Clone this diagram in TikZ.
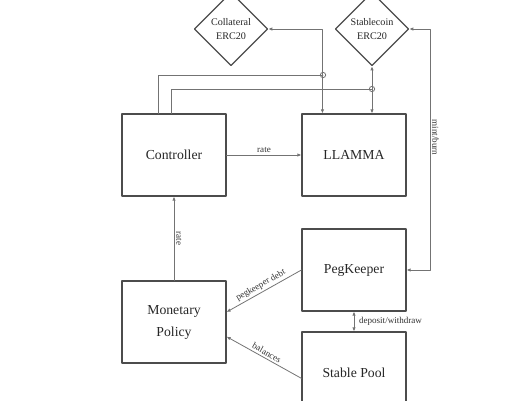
\documentclass[tikz,border=0pt]{standalone}
\usepackage{fontspec}
\setmainfont{Liberation Serif}
\usetikzlibrary{arrows.meta, calc, shapes.geometric}

\tikzset{
	block/.style={draw=black!70, line width=0.9pt, minimum width=78pt, minimum height=61.5pt,
		inner sep=0pt, align=center, text=black!85, font=\fontsize{10.3}{16.5}\selectfont},
	token/.style={diamond, draw=black!70, line width=0.9pt, minimum width=55pt, minimum height=55pt,
		inner sep=0pt, align=center, text=black!85, font=\fontsize{7.6}{11}\selectfont},
	link/.style={draw=black!55, line width=0.6pt},
	lbl/.style={text=black!80, font=\fontsize{6.8}{8}\selectfont, inner sep=1.5pt},
}

\begin{document}
\begin{tikzpicture}[x=0.75pt, y=-0.75pt, >={Latex[length=3pt,width=2.6pt]}, line cap=round, line join=round]

\useasboundingbox (0,0) rectangle (520,400);
\clip (0,0) rectangle (520,400);

%========================
% tokens
%========================
\node[token] (coll) at (231,29) {Collateral\\ERC20};
\node[token] (stab) at (372,29) {Stablecoin\\ERC20};

%========================
% contracts
%========================
\node[block] (ctrl)   at (174,155) {Controller};
\node[block] (llamma) at (354,155) {LLAMMA};
\node[block] (peg)    at (354,270) {PegKeeper};
\node[block] (mon)    at (174,322) {Monetary\\Policy};
\node[block] (pool)   at (354,373) {Stable Pool};

% junctions on the token lines
\coordinate (collHop) at (323,75);
\coordinate (stabHop) at (372,89);
\coordinate (mintRail) at (430,0);

%========================
% token flows
%========================
\draw[link,<->] (coll.east) -| ($(llamma.north west)!0.2!(llamma.north east)$);
\draw[link,<->] (stab.south) -- (stab.south |- llamma.north);
\draw[link,<->] (stab.east) -- (stab.east -| mintRail)
	-- node[lbl, pos=0.45, rotate=-90, anchor=south] {mint/burn} (peg.east -| mintRail)
	-- (peg.east);

% controller taps
\draw[link] ($(ctrl.north west)!0.35!(ctrl.north east)$) |- (collHop);
\draw[link] ($(ctrl.north west)!0.48!(ctrl.north east)$) |- (stabHop);
\draw[link] (collHop) circle (2pt);
\draw[link] (stabHop) circle (2pt);

%========================
% rates and balances
%========================
\draw[link,->] (ctrl) -- node[lbl, above] {rate} (llamma);
\draw[link,->] (mon) -- node[lbl, rotate=-90, anchor=south] {rate} (ctrl);
\draw[link,->] (peg.west) -- node[lbl, sloped, above] {pegkeeper debt} ([yshift=7.5pt]mon.east);
\draw[link,->] ([yshift=-4pt]pool.west) -- node[lbl, sloped, above] {balances} ([yshift=-11pt]mon.east);
\draw[link,<->] (peg.south) -- node[lbl, right=2pt] {deposit/withdraw} (pool.north);

\end{tikzpicture}
\end{document}
